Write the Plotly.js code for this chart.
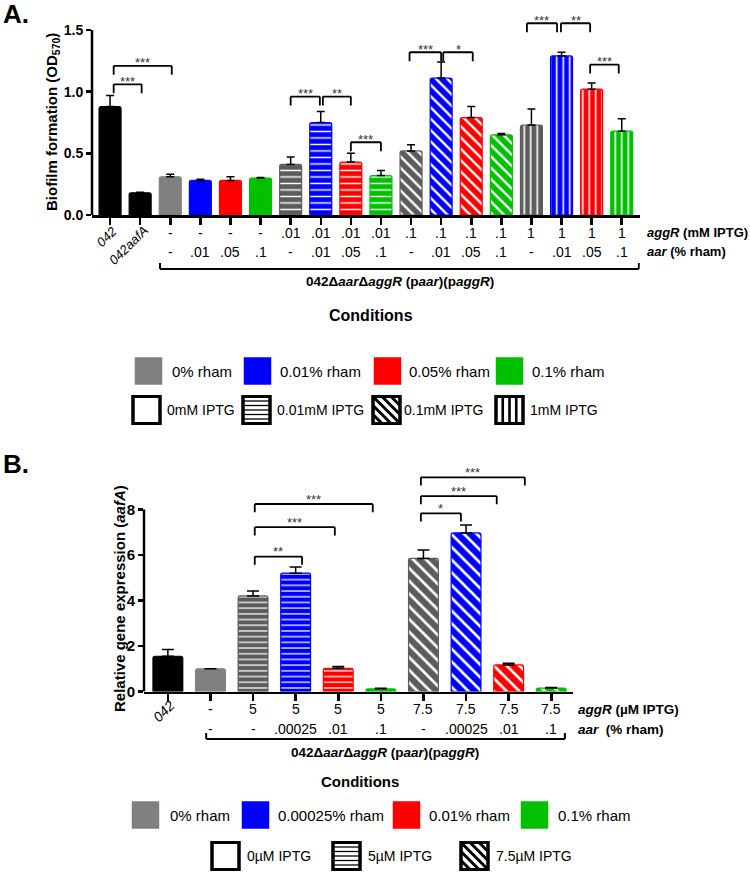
<!DOCTYPE html>
<html><head><meta charset="utf-8">
<script src="https://cdn.plot.ly/plotly-3.0.1.min.js"></script>
<style>html,body{margin:0;padding:0;background:#fff}#chart{width:750px;height:873px}</style>
</head><body><div id="chart"></div>
<script>
// ================= DATA : Panel A (biofilm) =================
const catsA = ['042','042aafA','-|-','-|.01','-|.05','-|.1','.01|-','.01|.01','.01|.05','.01|.1','.1|-','.1|.01','.1|.05','.1|.1','1|-','1|.01','1|.05','1|.1'];
const strainLabelsA = ['042','042aafA'];
const aggrRowA = ['','','-','-','-','-','.01','.01','.01','.01','.1','.1','.1','.1','1','1','1','1'];
const aarRowA  = ['','','-','.01','.05','.1','-','.01','.05','.1','-','.01','.05','.1','-','.01','.05','.1'];
const biofilmA = [0.88,0.18,0.31,0.28,0.28,0.30,0.41,0.75,0.43,0.32,0.52,1.11,0.79,0.65,0.73,1.29,1.02,0.68];
const semA     = [0.09,0.005,0.02,0.01,0.03,0.005,0.06,0.09,0.07,0.04,0.05,0.13,0.09,0.01,0.13,0.03,0.05,0.10];
const rhamGroupA = [-1,-1,0,1,2,3,0,1,2,3,0,1,2,3,0,1,2,3];
const iptgGroupA = [-1,-1,0,0,0,0,1,1,1,1,2,2,2,2,3,3,3,3];
const sigFromA  = [0.12,0.12,6.0,7.07,8.0,9.95,11.07,13.85,14.98,15.95];
const sigToA    = [1.05,2.05,6.97,8.0,9.0,11.0,12.05,14.85,15.95,16.9];
const sigLevelA = [1.06,1.21,0.96,0.96,0.59,1.32,1.32,1.555,1.555,1.22];
const sigTextA  = ['***','***','***','**','***','***','*','***','**','***'];
const legendRhamA = ['0% rham','0.01% rham','0.05% rham','0.1% rham'];
const legendIptgA = ['0mM IPTG','0.01mM IPTG','0.1mM IPTG','1mM IPTG'];

// ================= DATA : Panel B (aafA expression) =================
const catsB = ['042','-|-','5|-','5|.00025','5|.01','5|.1','7.5|-','7.5|.00025','7.5|.01','7.5|.1'];
const strainLabelsB = ['042'];
const aggrRowB = ['','-','5','5','5','5','7.5','7.5','7.5','7.5'];
const aarRowB  = ['','-','-','.00025','.01','.1','-','.00025','.01','.1'];
const exprB = [1.55,1.0,4.2,5.2,1.02,0.12,5.85,6.97,1.17,0.15];
const semB  = [0.30,0.0,0.22,0.27,0.08,0.02,0.37,0.35,0.07,0.03];
const rhamGroupB = [-1,0,0,1,2,3,0,1,2,3];
const iptgGroupB = [-1,0,1,1,1,1,2,2,2,2];
const sigFromB  = [2.04,2.04,2.04,5.94,5.94,5.94];
const sigToB    = [3.15,3.92,4.81,6.88,7.72,8.38];
const sigLevelB = [5.93,7.22,8.24,7.83,8.59,9.41];
const sigTextB  = ['**','***','***','*','***','***'];
const legendRhamB = ['0% rham','0.00025% rham','0.01% rham','0.1% rham'];
const legendIptgB = ['0\u00b5M IPTG','5\u00b5M IPTG','7.5\u00b5M IPTG'];

// ================= STYLE =================
const FONT = 'Liberation Sans, Arial, sans-serif';
const W = 750, H = 873;
const PX = x => x / W, PY = y => 1 - y / H;
const rhamColors = ['#808080','#0000ff','#ff0000','#00c000'];
const patGray = '#5c5c5c';
const patShapes = ['', '-', '\\', '|'];

function barStyle(rham, iptg, sizes, sol) {
  const col = [], shp = [], sz = [], sd = [], lc = [];
  for (let i = 0; i < rham.length; i++) {
    let c = rham[i] < 0 ? '#000000' : rhamColors[rham[i]];
    const s = iptg[i] > 0 ? patShapes[iptg[i]] : '';
    if (s && rham[i] === 0) c = patGray;
    col.push(c); shp.push(s); lc.push(c);
    sz.push(s ? sizes[s] : 8); sd.push(s ? sol[s] : 0.3);
  }
  return {color: col, line: {color: lc, width: 1.2}, cornerradius: 2,
    pattern: {shape: shp, fgcolor: 'white', fgopacity: 1, size: sz, solidity: sd, fillmode: 'overlay'}};
}

const traceA = {
  type: 'bar', x: catsA, y: biofilmA, xaxis: 'x', yaxis: 'y', width: 0.73,
  marker: barStyle(rhamGroupA, iptgGroupA, {'-': 6.5, '\\': 8, '|': 6.5}, {'-': 0.22, '\\': 0.3, '|': 0.25}),
  error_y: {type: 'data', symmetric: false, array: semA, arrayminus: semA.map(() => 0), color: 'black', thickness: 1.5, width: 4},
  showlegend: false, hoverinfo: 'skip'
};
const traceB = {
  type: 'bar', x: catsB, y: exprB, xaxis: 'x2', yaxis: 'y2', width: 0.70,
  marker: barStyle(rhamGroupB, iptgGroupB, {'-': 5.7, '\\': 9}, {'-': 0.22, '\\': 0.3}),
  error_y: {type: 'data', symmetric: false, array: semB, arrayminus: semB.map(() => 0), color: 'black', thickness: 1.5, width: 6},
  showlegend: false, hoverinfo: 'skip'
};

const shapes = [], annotations = [];
function ann(o) { annotations.push(Object.assign({showarrow: false, xanchor: 'center', yanchor: 'middle', font: {family: FONT, size: 14, color: 'black'}}, o)); }
function linePx(x0, y0, x1, y1, lw, col) {
  shapes.push({type: 'line', xref: 'paper', yref: 'paper', x0: PX(x0), x1: PX(x1), y0: PY(y0), y1: PY(y1), line: {color: col || 'black', width: lw}});
}
function rectPx(x0, y0, x1, y1, fill, lc, lw) {
  shapes.push({type: 'rect', xref: 'paper', yref: 'paper', x0: PX(x0), x1: PX(x1), y0: PY(y1), y1: PY(y0), fillcolor: fill, line: {color: lc, width: lw}});
}
function patternBox(xl, yc, kind) {
  const s = 27, t = yc - s / 2;
  rectPx(xl, t, xl + s, t + s, 'white', 'black', 3);
  if (kind === '-') for (let k = 1; k <= 5; k++) linePx(xl, t + k * s / 6, xl + s, t + k * s / 6, 1.3);
  if (kind === '|') for (let k = 1; k <= 3; k++) linePx(xl + k * s / 4, t, xl + k * s / 4, t + s, 2.6);
  if (kind === '\\') for (const c of [-18, -9, 0, 9, 18]) {
    if (c >= 0) linePx(xl + c, t, xl + s, t + s - c, 3);
    else linePx(xl, t - c, xl + s + c, t + s, 3);
  }
  rectPx(xl, t, xl + s, t + s, 'rgba(0,0,0,0)', 'black', 3);
}

// ---- axes lines (y) limited to labelled range
shapes.push({type: 'line', xref: 'x domain', yref: 'y', x0: 0, x1: 0, y0: 0, y1: 1.5, line: {color: 'black', width: 2.5}});
shapes.push({type: 'line', xref: 'x2 domain', yref: 'y2', x0: 0, x1: 0, y0: 0, y1: 8, line: {color: 'black', width: 2.5}});

// ---- significance brackets
function brackets(from, to, lvl, txt, xr, yr, leg, yshift) {
  for (let i = 0; i < from.length; i++) {
    const L = {color: 'black', width: 1.8};
    shapes.push({type: 'line', xref: xr, yref: yr, x0: from[i], x1: to[i], y0: lvl[i], y1: lvl[i], line: L});
    shapes.push({type: 'line', xref: xr, yref: yr, x0: from[i], x1: from[i], y0: lvl[i], y1: lvl[i] - leg, line: L});
    shapes.push({type: 'line', xref: xr, yref: yr, x0: to[i], x1: to[i], y0: lvl[i], y1: lvl[i] - leg, line: L});
    ann({xref: xr, yref: yr, x: (from[i] + to[i]) / 2, y: lvl[i], yshift: yshift, text: txt[i], font: {family: FONT, size: 13, color: '#333'}});
  }
}
brackets(sigFromA, sigToA, sigLevelA, sigTextA, 'x', 'y', 0.073, 3);
brackets(sigFromB, sigToB, sigLevelB, sigTextB, 'x2', 'y2', 0.36, 5);

// ---- condition rows under the x axes
aggrRowA.forEach((t, i) => { if (t) ann({xref: 'x', yref: 'paper', x: i, y: PY(233), text: t}); });
aarRowA.forEach((t, i) => { if (t) ann({xref: 'x', yref: 'paper', x: i, y: PY(252), text: t}); });
aggrRowB.forEach((t, i) => { if (t) ann({xref: 'x2', yref: 'paper', x: i, y: PY(709), text: t}); });
aarRowB.forEach((t, i) => { if (t) ann({xref: 'x2', yref: 'paper', x: i, y: PY(729), text: t}); });
// rotated strain labels
ann({xref: 'x', yref: 'paper', x: 0, xshift: -3, y: PY(237), text: '<i>' + strainLabelsA[0] + '</i>', textangle: -45, font: {family: FONT, size: 13, color: 'black'}});
ann({xref: 'x', yref: 'paper', x: 1, xshift: -12, y: PY(245), text: '<i>' + strainLabelsA[1] + '</i>', textangle: -45, font: {family: FONT, size: 13, color: 'black'}});
ann({xref: 'x2', yref: 'paper', x: 0, xshift: -4, y: PY(711), text: '<i>' + strainLabelsB[0] + '</i>', textangle: -45, font: {family: FONT, size: 14, color: 'black'}});
// row headers
ann({xref: 'paper', yref: 'paper', x: PX(645), y: PY(233), xanchor: 'left', text: '<b><i>aggR</i> (mM IPTG)</b>', font: {family: FONT, size: 13, color: 'black'}});
ann({xref: 'paper', yref: 'paper', x: PX(645), y: PY(252), xanchor: 'left', text: '<b><i>aar</i> (% rham)</b>', font: {family: FONT, size: 13, color: 'black'}});
ann({xref: 'paper', yref: 'paper', x: PX(576), y: PY(709), xanchor: 'left', text: '<b><i>aggR</i> (\u00b5M IPTG)</b>', font: {family: FONT, size: 13.5, color: 'black'}});
ann({xref: 'paper', yref: 'paper', x: PX(576), y: PY(729), xanchor: 'left', text: '<b><i>aar</i>  (% rham)</b>', font: {family: FONT, size: 13.5, color: 'black'}});

// strain brackets under categories
function strainBracket(xr, x0, x1, yl, yt) {
  shapes.push({type: 'line', xref: xr, yref: 'paper', x0: x0, x1: x1, y0: PY(yl), y1: PY(yl), line: {color: 'black', width: 2}});
  shapes.push({type: 'line', xref: xr, yref: 'paper', x0: x0, x1: x0, y0: PY(yl), y1: PY(yt), line: {color: 'black', width: 2}});
  shapes.push({type: 'line', xref: xr, yref: 'paper', x0: x1, x1: x1, y0: PY(yl), y1: PY(yt), line: {color: 'black', width: 2}});
}
strainBracket('x', 1.66, 17.57, 269, 263);
strainBracket('x2', 0.9, 9.32, 739, 733);
const strainName = '<b>042\u0394<i>aar</i>\u0394<i>aggR</i> (p<i>aar</i>)(p<i>aggR</i>)</b>';
ann({xref: 'paper', yref: 'paper', x: PX(400), y: PY(282), text: strainName, font: {family: FONT, size: 13.5, color: 'black'}});
ann({xref: 'paper', yref: 'paper', x: PX(385), y: PY(752), text: strainName, font: {family: FONT, size: 13.5, color: 'black'}});
ann({xref: 'paper', yref: 'paper', x: PX(371), y: PY(315), text: '<b>Conditions</b>', font: {family: FONT, size: 16, color: 'black'}});
ann({xref: 'paper', yref: 'paper', x: PX(360), y: PY(781), text: '<b>Conditions</b>', font: {family: FONT, size: 15, color: 'black'}});

// y titles
ann({xref: 'paper', yref: 'paper', x: PX(53), y: PY(122), textangle: -90, text: '<b>Biofilm formation (OD<sub>570</sub>)</b>', font: {family: FONT, size: 15, color: 'black'}});
ann({xref: 'paper', yref: 'paper', x: PX(119), y: PY(599), textangle: -90, text: '<b>Relative gene expression (<i>aafA</i>)</b>', font: {family: FONT, size: 15, color: 'black'}});
// panel letters
ann({xref: 'paper', yref: 'paper', x: PX(1), y: PY(14), xanchor: 'left', text: '<b>A.</b>', font: {family: FONT, size: 26, color: 'black'}});
ann({xref: 'paper', yref: 'paper', x: PX(1), y: PY(464), xanchor: 'left', text: '<b>B.</b>', font: {family: FONT, size: 26, color: 'black'}});

// ---- custom legends
function colorLegend(labels, boxX, textX, yc) {
  labels.forEach((t, i) => {
    rectPx(boxX[i], yc - 13.5, boxX[i] + 27, yc + 13.5, rhamColors[i], rhamColors[i], 0.5);
    ann({xref: 'paper', yref: 'paper', x: PX(textX[i]), y: PY(yc), xanchor: 'left', text: t, font: {family: FONT, size: 15, color: 'black'}});
  });
}
function patternLegend(labels, boxX, textX, yc) {
  labels.forEach((t, i) => {
    patternBox(boxX[i], yc, patShapes[i]);
    ann({xref: 'paper', yref: 'paper', x: PX(textX[i]), y: PY(yc), xanchor: 'left', text: t, font: {family: FONT, size: 14, color: 'black'}});
  });
}
colorLegend(legendRhamA, [135, 244, 374, 496], [170, 278, 407, 530], 371);
patternLegend(legendIptgA, [133, 243, 373, 496], [165, 275, 402, 528], 410);
colorLegend(legendRhamB, [132, 242, 393, 521], [168, 276, 427, 556], 815);
patternLegend(legendIptgB, [212, 333, 461], [245, 366, 494], 856);

const axX = {type: 'category', showline: true, linecolor: 'black', linewidth: 2.5, ticks: 'outside', ticklen: 7, tickwidth: 2.5,
  tickcolor: 'black', showticklabels: false, showgrid: false, zeroline: false, fixedrange: true};
const axY = {showline: false, ticks: 'outside', ticklen: 5, tickwidth: 2.5, tickcolor: 'black', showgrid: false, zeroline: false,
  tickfont: {family: FONT, size: 14, weight: 'bold', color: 'black'}, fixedrange: true};

const layout = {
  width: W, height: H, margin: {l: 0, r: 0, t: 0, b: 0}, paper_bgcolor: 'white', plot_bgcolor: 'white',
  showlegend: false,
  xaxis: Object.assign({}, axX, {domain: [PX(92), PX(639.8)], range: [-0.6, 17.6], anchor: 'y'}),
  yaxis: Object.assign({}, axY, {domain: [PY(215), PY(17.7)], range: [0, 1.6], tickvals: [0, 0.5, 1, 1.5], tickformat: '.1f', anchor: 'x'}),
  xaxis2: Object.assign({}, axX, {domain: [PX(144), PX(573.4)], range: [-0.56, 9.52], anchor: 'y2'}),
  yaxis2: Object.assign({}, axY, {domain: [PY(691.5), PY(468.5)], range: [0, 9.8], tickvals: [0, 2, 4, 6, 8], anchor: 'x2',
    tickfont: {family: FONT, size: 15, weight: 'bold', color: 'black'}}),
  shapes: shapes, annotations: annotations
};
Plotly.newPlot('chart', [traceA, traceB], layout, {displayModeBar: false, staticPlot: true});
</script></body></html>
